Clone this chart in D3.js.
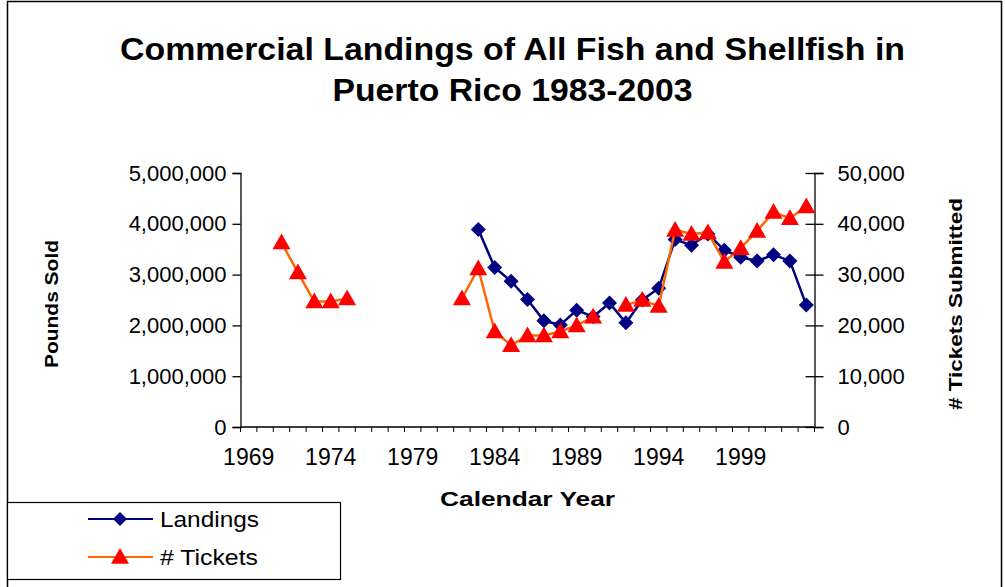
<!DOCTYPE html>
<html>
<head>
<meta charset="utf-8">
<script src="https://cdn.jsdelivr.net/npm/d3@7"></script>
<style>
  html, body { margin: 0; padding: 0; background: #fff; }
  svg { display: block; font-family: "Liberation Sans", Arial, sans-serif; }
</style>
</head>
<body>
<svg id="chart" width="1005" height="587"></svg>
<script>
// Calendar years on the category axis
const years = d3.range(1969, 2004);
const labelYears = [1969, 1974, 1979, 1984, 1989, 1994, 1999];

// Pounds sold (primary axis), 1983-2003
const landingYears = d3.range(1983, 2004);
const landings = [3890000, 3140000, 2870000, 2510000, 2090000, 2010000, 2300000, 2170000,
  2440000, 2050000, 2500000, 2730000, 3690000, 3580000, 3800000, 3480000, 3340000,
  3270000, 3390000, 3270000, 2400000];

// Tickets submitted (secondary axis); null = no report
const ticketYears = [1971, 1972, 1973, 1974, 1975, 1976, 1977, 1978, 1979, 1980, 1981,
  1982, 1983, 1984, 1985, 1986, 1987, 1988, 1989, 1990, 1991, 1992, 1993, 1994, 1995,
  1996, 1997, 1998, 1999, 2000, 2001, 2002, 2003];
const tickets = [36300, 30400, 24700, 24700, 25300, null, null, null, null, null, null,
  25300, 31200, 18800, 16100, 18000, 18000, 18800, 20000, 21700, null, 24000, 25000,
  23800, 38800, 38000, 38300, 32500, 35200, 38600, 42300, 41100, 43400];

const leftTicks = [0, 1000000, 2000000, 3000000, 4000000, 5000000];
const rightTicks = [0, 10000, 20000, 30000, 40000, 50000];

const svg = d3.select("#chart");

// Chart frame
svg.append("rect").attr("x", 7.5).attr("y", 1.5).attr("width", 994).attr("height", 600)
  .attr("fill", "none").attr("stroke", "#000").attr("stroke-width", 1.5);

const plot = { left: 240.5, right: 814.5, top: 173, bottom: 427 };

const x = d3.scaleBand().domain(years).range([plot.left, plot.right]).padding(0);
const yL = d3.scaleLinear().domain([0, 5000000]).range([plot.bottom, plot.top]);
const yR = d3.scaleLinear().domain([0, 50000]).range([plot.bottom, plot.top]);
const cx = yr => x(yr) + x.bandwidth() / 2;

// Title (wide, bold)
const titleLines = [
  { text: "Commercial Landings of All Fish and Shellfish in", y: 60, len: 785 },
  { text: "Puerto Rico 1983-2003", y: 101, len: 360 }
];
titleLines.forEach(t => {
  svg.append("text").attr("x", 512.5).attr("y", t.y).attr("text-anchor", "middle")
    .attr("font-size", 31).attr("font-weight", "bold").attr("fill", "#000")
    .attr("textLength", t.len).attr("lengthAdjust", "spacingAndGlyphs").text(t.text);
});

// Left axis
const gL = svg.append("g").attr("transform", `translate(${plot.left},0)`)
  .call(d3.axisLeft(yL).tickValues(leftTicks).tickSize(8).tickPadding(6)
    .tickFormat(d3.format(",")));
gL.select(".domain").attr("stroke", "#000").attr("stroke-width", 1.3);
gL.selectAll(".tick line").attr("stroke", "#000").attr("stroke-width", 1.3);
gL.selectAll(".tick text").attr("font-size", 22).attr("fill", "#000")
  .attr("font-family", "Liberation Sans, Arial, sans-serif");

// Right axis (ticks cross the axis line)
const gR = svg.append("g").attr("transform", `translate(${plot.right},0)`)
  .call(d3.axisRight(yR).tickValues(rightTicks).tickSize(9).tickPadding(14)
    .tickFormat(d3.format(",")));
gR.select(".domain").attr("stroke", "#000").attr("stroke-width", 1.3);
gR.selectAll(".tick line").attr("x1", -9).attr("stroke", "#000").attr("stroke-width", 1.3);
gR.selectAll(".tick text").attr("font-size", 22).attr("fill", "#000")
  .attr("font-family", "Liberation Sans, Arial, sans-serif");

// Bottom category axis: marks at category boundaries, labels centred in categories
const gB = svg.append("g").attr("transform", `translate(0,${plot.bottom})`);
gB.append("line").attr("x1", plot.left).attr("x2", plot.right)
  .attr("stroke", "#000").attr("stroke-width", 1.3);
gB.selectAll("line.mark").data(years.concat([2004])).join("line").attr("class", "mark")
  .attr("x1", d => d === 2004 ? plot.right : x(d)).attr("x2", d => d === 2004 ? plot.right : x(d))
  .attr("y1", 0).attr("y2", 5).attr("stroke", "#000").attr("stroke-width", 1);
gB.selectAll("text").data(labelYears).join("text")
  .attr("x", d => cx(d)).attr("y", 38).attr("text-anchor", "middle")
  .attr("font-size", 23).attr("fill", "#000").text(d => d);

// Axis titles
svg.append("text").attr("x", 527.5).attr("y", 506).attr("text-anchor", "middle")
  .attr("font-size", 20).attr("font-weight", "bold")
  .attr("textLength", 175).attr("lengthAdjust", "spacingAndGlyphs").text("Calendar Year");
svg.append("text").attr("transform", "translate(58,304) rotate(-90)").attr("text-anchor", "middle")
  .attr("font-size", 19).attr("font-weight", "bold")
  .attr("textLength", 128).attr("lengthAdjust", "spacingAndGlyphs").text("Pounds Sold");
svg.append("text").attr("transform", "translate(962,304) rotate(-90)").attr("text-anchor", "middle")
  .attr("font-size", 19).attr("font-weight", "bold")
  .attr("textLength", 212).attr("lengthAdjust", "spacingAndGlyphs").text("# Tickets Submitted");

const navy = "#000080", orange = "#FF6600", red = "#FF0000";
const diamond = s => `M0,${-s}L${s},0L0,${s}L${-s},0Z`;
const triangle = s => `M0,${-s}L${s},${s * 0.75}L${-s},${s * 0.75}Z`;

// Landings series
const landData = landingYears.map((yr, i) => ({ yr, v: landings[i] }));
svg.append("path").datum(landData)
  .attr("d", d3.line().defined(d => d.v != null).x(d => cx(d.yr)).y(d => yL(d.v)))
  .attr("fill", "none").attr("stroke", navy).attr("stroke-width", 2.5);
svg.selectAll("path.dia").data(landData.filter(d => d.v != null)).join("path").attr("class", "dia")
  .attr("transform", d => `translate(${cx(d.yr)},${yL(d.v)})`)
  .attr("d", diamond(7.5)).attr("fill", navy);

// Tickets series
const tickData = ticketYears.map((yr, i) => ({ yr, v: tickets[i] }));
svg.append("path").datum(tickData)
  .attr("d", d3.line().defined(d => d.v != null).x(d => cx(d.yr)).y(d => yR(d.v)))
  .attr("fill", "none").attr("stroke", orange).attr("stroke-width", 2.5);
svg.selectAll("path.tri").data(tickData.filter(d => d.v != null)).join("path").attr("class", "tri")
  .attr("transform", d => `translate(${cx(d.yr)},${yR(d.v)})`)
  .attr("d", triangle(9)).attr("fill", red);

// Legend
const lg = svg.append("g");
lg.append("rect").attr("x", 7.5).attr("y", 502.5).attr("width", 333).attr("height", 77)
  .attr("fill", "#fff").attr("stroke", "#000").attr("stroke-width", 1.2);
const items = [
  { name: "Landings", color: navy, mark: diamond(7), fill: navy, y: 519, len: 99 },
  { name: "# Tickets", color: orange, mark: triangle(9), fill: red, y: 557, len: 98 }
];
items.forEach(it => {
  lg.append("line").attr("x1", 88).attr("x2", 153).attr("y1", it.y).attr("y2", it.y)
    .attr("stroke", it.color).attr("stroke-width", 1.8);
  lg.append("path").attr("transform", `translate(120,${it.y})`).attr("d", it.mark).attr("fill", it.fill);
  lg.append("text").attr("x", 160).attr("y", it.y + 8).attr("font-size", 22)
    .attr("textLength", it.len).attr("lengthAdjust", "spacingAndGlyphs").text(it.name);
});
</script>
</body>
</html>
